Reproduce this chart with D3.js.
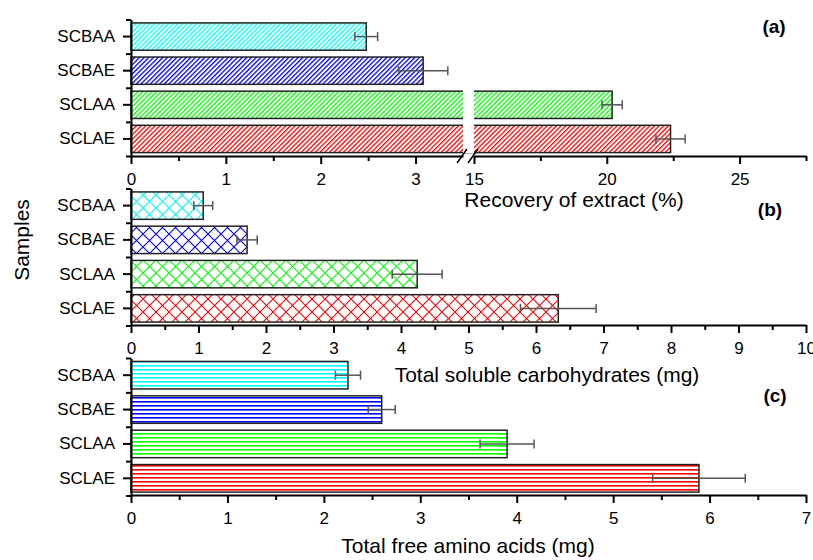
<!DOCTYPE html>
<html>
<head>
<meta charset="utf-8">
<script src="https://cdn.jsdelivr.net/npm/d3@7"></script>
<style>
  body { margin: 0; background: #fff; }
  svg { font-family: "Liberation Sans", Arial, sans-serif; }
  .axis path, .axis line { stroke: #000; stroke-width: 2; }
  .axis text { font-size: 17px; fill: #000; }
</style>
</head>
<body>
<div id="chart"></div>
<script>
// Chart values.
const samples = ["SCBAA", "SCBAE", "SCLAA", "SCLAE"];
const colors = ["#00ffff", "#0000ff", "#00ff00", "#ff0000"];

const recovery = [2.48, 3.08, 20.2, 22.4];
const recoveryErr = [0.12, 0.26, 0.38, 0.55];
const carbs = [1.07, 1.72, 4.24, 6.33];
const carbsErr = [0.14, 0.15, 0.37, 0.56];
const aminos = [2.25, 2.60, 3.90, 5.89];
const aminosErr = [0.13, 0.14, 0.28, 0.48];

const recoveryTicksLow = [0, 1, 2, 3];
const recoveryTicksHigh = [15, 20, 25];
const carbTicks = [0, 1, 2, 3, 4, 5, 6, 7, 8, 9, 10];
const aminoTicks = [0, 1, 2, 3, 4, 5, 6, 7];

const WIDTH = 813;
const HEIGHT = 560;
const X0 = 131;
const X1 = 806;

const svg = d3.select("#chart").append("svg")
  .attr("width", WIDTH)
  .attr("height", HEIGHT);

// Hatch patterns, one set per panel.
const defs = svg.append("defs");
colors.forEach((c, i) => {
  let diag = defs.append("pattern")
    .attr("id", "diag" + i)
    .attr("patternUnits", "userSpaceOnUse")
    .attr("width", 3.3).attr("height", 10)
    .attr("patternTransform", "rotate(45)");
  diag.append("rect").attr("width", 3.3).attr("height", 10).attr("fill", "#fff");
  diag.append("rect").attr("width", 1.3).attr("height", 10).attr("fill", c);

  let cross = defs.append("pattern")
    .attr("id", "cross" + i)
    .attr("patternUnits", "userSpaceOnUse")
    .attr("width", 13).attr("height", 13);
  cross.append("rect").attr("width", 13).attr("height", 13).attr("fill", "#fff");
  cross.append("path")
    .attr("d", "M0,0L13,13M0,13L13,0")
    .attr("stroke", c).attr("stroke-width", 1.1).attr("fill", "none");

  let horiz = defs.append("pattern")
    .attr("id", "horiz" + i)
    .attr("patternUnits", "userSpaceOnUse")
    .attr("width", 10).attr("height", 4);
  horiz.append("rect").attr("width", 10).attr("height", 4).attr("fill", "#fff");
  horiz.append("rect").attr("y", 1).attr("width", 10).attr("height", 1.6).attr("fill", c);
});

/**
 * Draws the sample axis (major ticks at bars, minor ticks between them).
 */
function drawYAxis (yScale, range) {
  svg.append("g").classed("axis", true)
    .attr("transform", `translate(${X0},0)`)
    .call(d3.axisLeft(yScale).tickSize(8).tickSizeOuter(0).tickPadding(8))
    .call(g => g.select(".domain").remove());

  let minor = d3.scaleLinear().domain([0, samples.length]).range(range);
  svg.append("g").classed("axis", true)
    .attr("transform", `translate(${X0},0)`)
    .call(d3.axisLeft(minor).tickValues(d3.range(samples.length + 1)).tickSize(5).tickSizeOuter(0).tickFormat(""));
}

/**
 * Draws a bottom axis with major and minor ticks.
 */
function drawXAxis (xScale, y, ticks, minorTicks) {
  svg.append("g").classed("axis", true)
    .attr("transform", `translate(0,${y})`)
    .call(d3.axisBottom(xScale).tickValues(ticks).tickSize(8).tickSizeOuter(0).tickPadding(9).tickFormat(d3.format("d")));
  svg.append("g").classed("axis", true)
    .attr("transform", `translate(0,${y})`)
    .call(d3.axisBottom(xScale).tickValues(minorTicks).tickSize(5).tickSizeOuter(0).tickFormat(""))
    .call(g => g.select(".domain").remove());
}

/**
 * Draws the bars of one panel.
 */
function drawBars (xPos, yScale, values, errors, fillId) {
  let g = svg.append("g");
  let rows = samples.map((s, i) => ({ s: s, v: values[i], e: errors[i], i: i }));
  g.selectAll("rect.bar").data(rows).enter().append("rect")
    .classed("bar", true)
    .attr("x", X0)
    .attr("y", d => yScale(d.s))
    .attr("width", d => xPos(d.v) - X0)
    .attr("height", yScale.bandwidth())
    .attr("fill", d => `url(#${fillId}${d.i})`)
    .attr("stroke", "#222")
    .attr("stroke-width", 1.5);
  return { g: g, rows: rows };
}

function drawErrors (xPos, yScale, rows) {
  let g = svg.append("g").attr("stroke", "#555").attr("stroke-width", 1.5);
  rows.forEach(d => {
    let cy = yScale(d.s) + yScale.bandwidth() / 2;
    let xa = xPos(d.v - d.e);
    let xb = xPos(d.v + d.e);
    g.append("line").attr("x1", xa).attr("x2", xb).attr("y1", cy).attr("y2", cy);
    g.append("line").attr("x1", xa).attr("x2", xa).attr("y1", cy - 4.5).attr("y2", cy + 4.5);
    g.append("line").attr("x1", xb).attr("x2", xb).attr("y1", cy - 4.5).attr("y2", cy + 4.5);
  });
}

function bandScale (range) {
  return d3.scaleBand().domain(samples).range(range).paddingInner(0.2).paddingOuter(0.1);
}

function addText (txt, x, y, size, weight) {
  svg.append("text").attr("x", x).attr("y", y)
    .attr("text-anchor", "middle")
    .style("font-size", size + "px")
    .style("font-weight", weight || "normal")
    .text(txt);
}

// Panel (a): broken axis.
const rangeA = [19.5, 156];
const yA = bandScale(rangeA);
const xLow = d3.scaleLinear().domain([0, 3.5]).range([X0, 463]);
const xHigh = d3.scaleLinear().domain([15, 27.5]).range([474, X1]);
const xBroken = v => v <= 3.5 ? xLow(v) : xHigh(v);

let barsA = drawBars(xBroken, yA, recovery, recoveryErr, "diag");
svg.append("rect").attr("x", 463).attr("y", rangeA[0] - 2).attr("width", 11).attr("height", rangeA[1] - rangeA[0] - 1).attr("fill", "#fff");
drawErrors(xBroken, yA, barsA.rows);
drawYAxis(yA, rangeA);
drawXAxis(xLow, rangeA[1], recoveryTicksLow, [0.5, 1.5, 2.5]);
drawXAxis(xHigh, rangeA[1], recoveryTicksHigh, [17.5, 22.5, 27.5]);
svg.append("path")
  .attr("d", `M457,${rangeA[1] + 7}L467,${rangeA[1] - 7}M468,${rangeA[1] + 7}L478,${rangeA[1] - 7}`)
  .attr("stroke", "#000").attr("stroke-width", 1.5);
addText("Recovery of extract (%)", 574, 207, 21);
addText("(a)", 774, 33, 19, "bold");

// Panel (b).
const rangeB = [188.5, 325.5];
const yB = bandScale(rangeB);
const xB = d3.scaleLinear().domain([0, 10]).range([X0, X1]);
let barsB = drawBars(xB, yB, carbs, carbsErr, "cross");
drawErrors(xB, yB, barsB.rows);
drawYAxis(yB, rangeB);
drawXAxis(xB, 325, carbTicks, d3.range(0.5, 10, 1));
addText("Total soluble carbohydrates (mg)", 547, 382, 21);
addText("(b)", 770, 216, 19, "bold");

// Panel (c).
const rangeC = [358, 495.5];
const yC = bandScale(rangeC);
const xC = d3.scaleLinear().domain([0, 7]).range([X0, X1]);
let barsC = drawBars(xC, yC, aminos, aminosErr, "horiz");
drawErrors(xC, yC, barsC.rows);
drawYAxis(yC, rangeC);
drawXAxis(xC, 495, aminoTicks, d3.range(0.5, 7, 1));
addText("Total free amino acids (mg)", 468, 553, 21);
addText("(c)", 775, 402, 19, "bold");

// Shared y title.
svg.append("text")
  .attr("transform", "translate(29,240) rotate(-90)")
  .attr("text-anchor", "middle")
  .style("font-size", "21px")
  .text("Samples");
</script>
</body>
</html>
